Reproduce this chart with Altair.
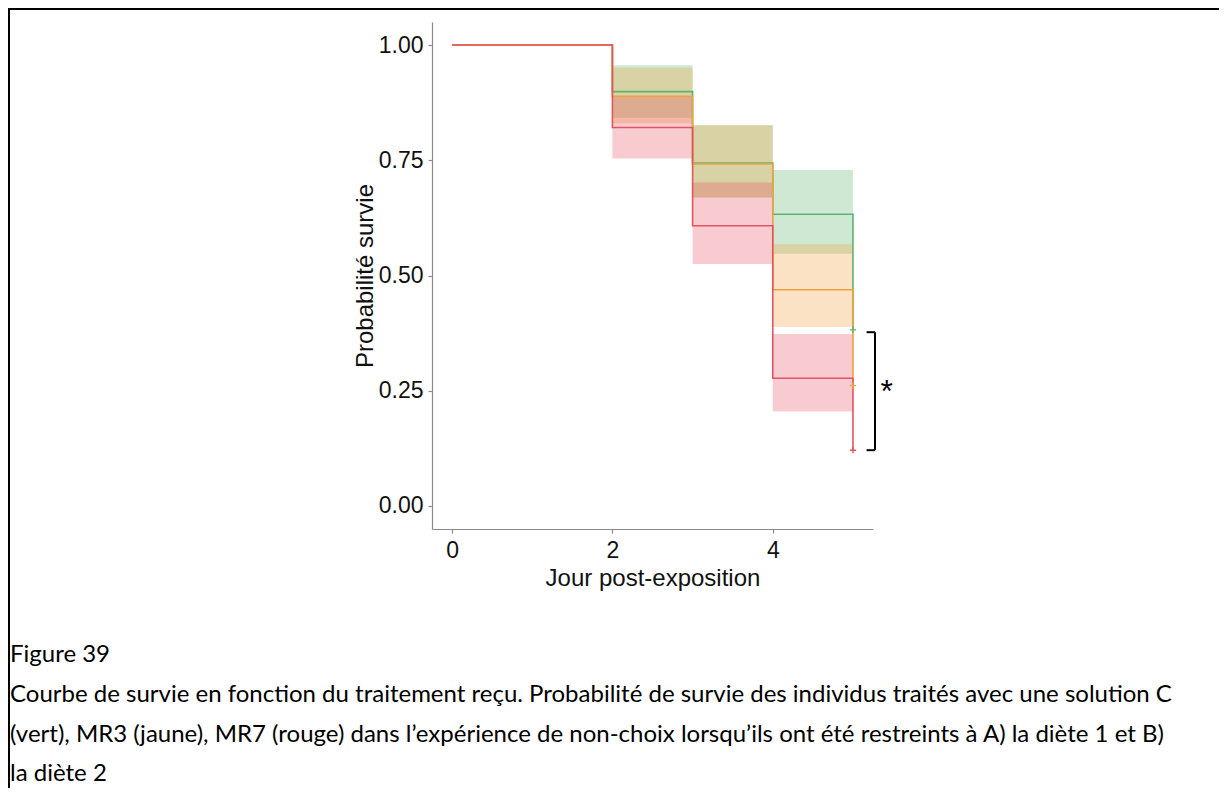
import altair as alt
import pandas as pd

# ---------------- data ----------------
groups = ["C", "MR3", "MR7"]
line_colors = ["#5DB46E", "#F2A03D", "#E5535F"]

times = [0, 2, 3, 4, 5]
surv_C = [1.0, 0.899, 0.744, 0.633, 0.382]
surv_MR3 = [1.0, 0.889, 0.742, 0.469, 0.261]
surv_MR7 = [1.0, 0.821, 0.608, 0.277, 0.121]

band_times = [2, 3, 4, 5]
lower_C = [0.842, 0.669, 0.547, 0.547]
upper_C = [0.956, 0.826, 0.729, 0.729]
lower_MR3 = [0.830, 0.669, 0.388, 0.388]
upper_MR3 = [0.951, 0.826, 0.568, 0.568]
lower_MR7 = [0.754, 0.525, 0.205, 0.205]
upper_MR7 = [0.889, 0.702, 0.373, 0.373]

x_ticks = [0, 2, 4]
y_ticks = [0.0, 0.25, 0.5, 0.75, 1.0]

# significance bracket between C (top) and MR7 (bottom) at end of follow-up
bracket_x = [5.17, 5.275]
bracket_y = [0.121, 0.377]
star_pos = [5.42, 0.225]

caption = [
    "Figure 39",
    "Courbe de survie en fonction du traitement reçu. Probabilité de survie des individus traités avec une solution C",
    "(vert), MR3 (jaune), MR7 (rouge) dans l’expérience de non-choix lorsqu’ils ont été restreints à A) la diète 1 et B)",
    "la diète 2",
]

# ---------------- tables ----------------
survs = {"C": surv_C, "MR3": surv_MR3, "MR7": surv_MR7}
lows = {"C": lower_C, "MR3": lower_MR3, "MR7": lower_MR7}
ups = {"C": upper_C, "MR3": upper_MR3, "MR7": upper_MR7}

line_df = pd.DataFrame(
    [{"group": g, "time": t, "surv": s} for g in groups for t, s in zip(times, survs[g])]
)
band_df = pd.DataFrame(
    [
        {"group": g, "time": t, "lower": lo, "upper": hi}
        for g in groups
        for t, lo, hi in zip(band_times, lows[g], ups[g])
    ]
)
cens_df = pd.DataFrame([{"group": g, "time": times[-1], "surv": survs[g][-1]} for g in groups])
bracket_df = pd.DataFrame(
    [
        {"xa": bracket_x[1], "xb": bracket_x[1], "ya": bracket_y[0], "yb": bracket_y[1]},
        {"xa": bracket_x[0], "xb": bracket_x[1], "ya": bracket_y[1], "yb": bracket_y[1]},
        {"xa": bracket_x[0], "xb": bracket_x[1], "ya": bracket_y[0], "yb": bracket_y[0]},
    ]
)
star_df = pd.DataFrame({"x": [star_pos[0]], "y": [star_pos[1]], "t": ["*"]})

W, H = 441, 507
PAD = {"left": 424, "top": 14, "right": 346, "bottom": 259}

xscale = alt.Scale(domain=[-0.25, 5.25], nice=False, zero=False)
yscale = alt.Scale(domain=[-0.05, 1.05], nice=False, zero=False)
cscale = alt.Scale(domain=groups, range=line_colors)

AX = dict(
    grid=False,
    labelFont="Liberation Sans",
    titleFont="Liberation Sans",
    labelFontSize=23,
    titleFontSize=24,
    labelColor="#111111",
    titleColor="#111111",
    titleFontWeight="normal",
    domainColor="#8a8a8a",
    domainWidth=1.2,
    tickColor="#8a8a8a",
    tickWidth=1.2,
    tickSize=4,
)
xaxis = alt.Axis(values=x_ticks, format="d", title="Jour post-exposition", labelPadding=6,
                 titleY=56.5, titleBaseline="alphabetic", **AX)
yaxis = alt.Axis(values=y_ticks, format=".2f", title="Probabilité survie", labelPadding=5,
                 titleAngle=270, titleX=-60, titleY=H / 2, titleBaseline="alphabetic", **AX)

bands = alt.Chart(band_df).mark_area(interpolate="step-after", opacity=0.3).encode(
    x=alt.X("time:Q", scale=xscale, axis=xaxis),
    y=alt.Y("lower:Q", scale=yscale, axis=yaxis, stack=None),
    y2="upper:Q",
    color=alt.Color("group:N", scale=cscale, legend=None),
)

lines = alt.Chart(line_df).mark_line(interpolate="step-after", strokeWidth=1.6).encode(
    x=alt.X("time:Q", scale=xscale),
    y=alt.Y("surv:Q", scale=yscale),
    color=alt.Color("group:N", scale=cscale, legend=None),
    order=alt.Order("time:Q"),
)

cens = alt.Chart(cens_df).mark_point(shape="M-1,0H1M0,-1V1", filled=False, size=40, strokeWidth=1.4,
                                     opacity=1).encode(
    x=alt.X("time:Q", scale=xscale),
    y=alt.Y("surv:Q", scale=yscale),
    color=alt.Color("group:N", scale=cscale, legend=None),
)

bracket = alt.Chart(bracket_df).mark_rule(color="black", strokeWidth=2).encode(
    x=alt.X("xa:Q", scale=xscale), x2="xb:Q",
    y=alt.Y("ya:Q", scale=yscale), y2="yb:Q",
)

star = alt.Chart(star_df).mark_text(font="Liberation Sans", fontSize=32, color="black",
                                    baseline="alphabetic", align="center").encode(
    x=alt.X("x:Q", scale=xscale), y=alt.Y("y:Q", scale=yscale), text="t:N"
)

cap_y = [633, 673, 713, 752]
cap_layers = []
for txt, yy in zip(caption, cap_y):
    cap_layers.append(
        alt.Chart(pd.DataFrame({"t": [txt]})).mark_text(
            font="Lato", fontSize=24, color="black", align="left", baseline="middle"
        ).encode(x=alt.value(-422), y=alt.value(yy), text="t:N")
    )

one = pd.DataFrame({"a": [0]})
border_top = alt.Chart(one).mark_rule(color="black", strokeWidth=2).encode(
    x=alt.value(-424), x2=alt.value(W + PAD["right"]), y=alt.value(-13)
)
border_left = alt.Chart(one).mark_rule(color="black", strokeWidth=2).encode(
    x=alt.value(-423), y=alt.value(-14), y2=alt.value(H + PAD["bottom"])
)

chart = alt.layer(bands, lines, cens, bracket, star, *cap_layers, border_top, border_left).properties(
    width=W,
    height=H,
    padding=PAD,
    autosize=alt.AutoSizeParams(type="none"),
    background="white",
).configure_view(stroke=None)

chart.save("out.html", embed_options={"renderer": "svg", "actions": False})
